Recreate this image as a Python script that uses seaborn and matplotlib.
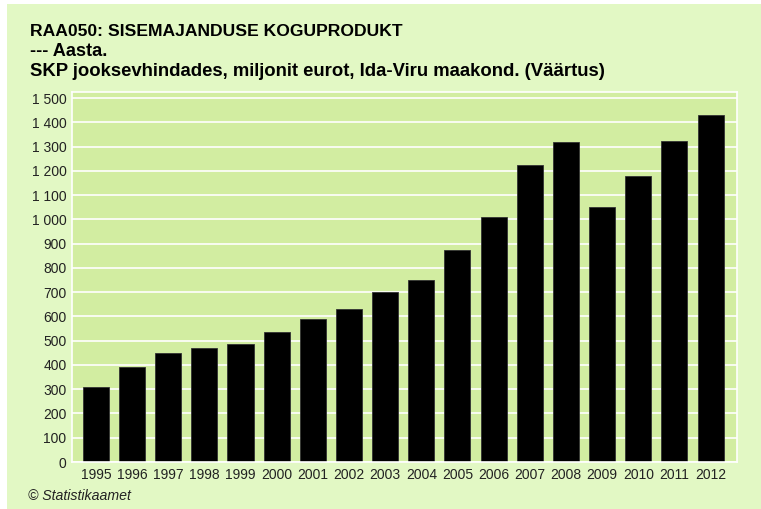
import matplotlib
matplotlib.use("Agg")
import matplotlib.pyplot as plt
import seaborn as sns
import pandas as pd
from matplotlib.patches import Rectangle
from matplotlib.ticker import FuncFormatter, MultipleLocator

years = ["1995", "1996", "1997", "1998", "1999", "2000", "2001", "2002", "2003",
         "2004", "2005", "2006", "2007", "2008", "2009", "2010", "2011", "2012"]
values = [310, 390, 450, 470, 485, 535, 590, 630, 700,
          750, 875, 1008, 1225, 1320, 1050, 1180, 1325, 1430]

title_lines = ["RAA050: SISEMAJANDUSE KOGUPRODUKT",
               "--- Aasta.",
               "SKP jooksevhindades, miljonit eurot, Ida-Viru maakond. (Väärtus)"]
title_sizes = [12.6, 13.1, 13.3]
footer = "© Statistikaamet"

sns.set_theme(style="white")
plt.rcParams['font.family'] = ['Liberation Sans', 'DejaVu Sans']

outer_bg = "#E2F8C4"
plot_bg = "#D2EDA1"

fig = plt.figure(figsize=(7.61, 5.09), dpi=100)
fig.patch.set_facecolor("white")
fig.patches.append(Rectangle((7 / 761, 0), 1, 1 - 4 / 509, transform=fig.transFigure,
                             facecolor=outer_bg, edgecolor="none", zorder=-10))

ax = fig.add_axes([72 / 761, 1 - 462 / 509, (737 - 72) / 761, (462 - 92) / 509])
df = pd.DataFrame({"year": years, "value": values})
sns.barplot(data=df, x="year", y="value", color="black", width=0.72,
            edgecolor="#333333", linewidth=0.6, ax=ax, saturation=1)

ax.set_facecolor(plot_bg)
ax.set_ylim(0, 1525)
ax.set_xlim(-0.66, len(years) - 1 + 0.73)
ax.yaxis.set_major_locator(MultipleLocator(100))
ax.yaxis.set_major_formatter(FuncFormatter(lambda v, p: f"{int(v):,}".replace(",", " ")))
ax.grid(axis="y", color="white", linewidth=1.2)
ax.set_axisbelow(True)
for s in ax.spines.values():
    s.set_color("white")
    s.set_linewidth(1.2)
ax.set_xlabel("")
ax.set_ylabel("")
ax.tick_params(axis="both", length=0, labelsize=10, colors="#222222", pad=4)

for i, (t, fs) in enumerate(zip(title_lines, title_sizes)):
    fig.text(30 / 761, 1 - (32 + i * 20) / 509, t, fontsize=fs, fontweight="bold",
             color="black", va="center", ha="left")
fig.text(28 / 761, 1 - 496 / 509, footer, fontsize=10.2, style="italic",
         color="#222222", va="center", ha="left")

fig.savefig("out.png", dpi=100)
